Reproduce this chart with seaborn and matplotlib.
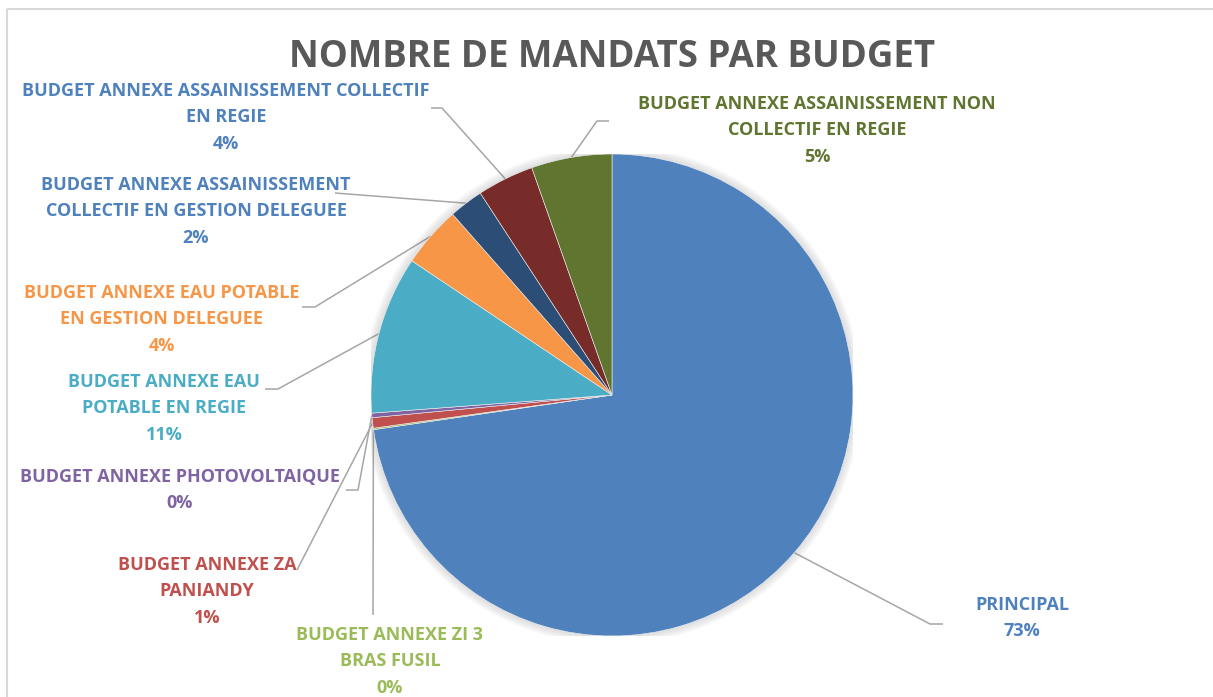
import math
import matplotlib
matplotlib.use("Agg")
import matplotlib.pyplot as plt
import seaborn as sns
from matplotlib.patches import Circle, Rectangle

# Budgets (clockwise from 12 o'clock) and their share of the mandates, in %
budgets = [
    "PRINCIPAL",
    "BUDGET ANNEXE ZI 3\nBRAS FUSIL",
    "BUDGET ANNEXE ZA\nPANIANDY",
    "BUDGET ANNEXE PHOTOVOLTAIQUE",
    "BUDGET ANNEXE EAU\nPOTABLE EN REGIE",
    "BUDGET ANNEXE EAU POTABLE\nEN GESTION DELEGUEE",
    "BUDGET ANNEXE ASSAINISSEMENT\nCOLLECTIF EN GESTION DELEGUEE",
    "BUDGET ANNEXE ASSAINISSEMENT COLLECTIF\nEN REGIE",
    "BUDGET ANNEXE ASSAINISSEMENT NON\nCOLLECTIF EN REGIE",
]
mandats = [72.7, 0.1, 0.7, 0.3, 10.6, 4.1, 2.3, 3.8, 5.4]

slice_colors = ["#4F81BD", "#9BBB59", "#C0504D", "#8064A2", "#4BACC6",
                "#F79646", "#2C4D75", "#772C2A", "#5F7530"]
label_colors = ["#4F81BD", "#9BBB59", "#C0504D", "#8064A2", "#4BACC6",
                "#F79646", "#4F81BD", "#4F81BD", "#5F7530"]

title = "NOMBRE DE MANDATS PAR BUDGET"

# Label placement (pixels): centre x / first line y, and leader line start points
label_pos = [(1022, 605), (390, 635), (207, 565), (180, 477), (164, 382),
             (162, 293), (196, 185), (226, 91), (817, 104)]
leader_start = [
    [(943, 624), (930, 624)],
    [(373, 615)],
    [(297, 570)],
    [(346, 490), (358, 490)],
    [(265, 389), (278, 389)],
    [(302, 307), (315, 307)],
    [(335, 193)],
    [(431, 108), (442, 108)],
    [(609, 121), (597, 121)],
]

sns.set_theme(style="white")
plt.rcParams["font.family"] = ["Open Sans", "DejaVu Sans"]

W, H = 1213, 697
CX, CY, R = 612, 395, 241
LINE = 26.3

fig = plt.figure(figsize=(W / 100, H / 100), dpi=100)
fig.patch.set_facecolor("white")

# overlay in pixel coordinates for labels and leader lines
ov = fig.add_axes([0, 0, 1, 1])
ov.set_xlim(0, W)
ov.set_ylim(H, 0)
ov.axis("off")
ov.set_zorder(0)

# chart frame (top/left edges visible)
ov.add_patch(Rectangle((7, 9), W + 20, H + 20, fill=False,
                       edgecolor="#D9D9D9", linewidth=1.5))

ax = fig.add_axes([(CX - R) / W, (H - CY - R) / H, 2 * R / W, 2 * R / H])
ax.set_zorder(1)
ax.patch.set_alpha(0)

# soft shadow around the pie
for k in range(1, 8):
    ax.add_patch(Circle((0, 0), 1 + 0.005 * k, color="#7f7f7f",
                        alpha=0.035, zorder=0, linewidth=0))

wedges, _ = ax.pie(mandats, colors=slice_colors, startangle=90,
                   counterclock=False, radius=1,
                   wedgeprops=dict(linewidth=0.4, edgecolor="#f0f0f0"))
ax.set_xlim(-1, 1)
ax.set_ylim(-1, 1)
ax.set_aspect("equal")
ax.axis("off")

total = sum(mandats)
for w, name, val, col, (lx, ly), start in zip(
        wedges, budgets, mandats, label_colors, label_pos, leader_start):
    t = math.radians((w.theta1 + w.theta2) / 2)
    end = (CX + R * math.cos(t), CY - R * math.sin(t))
    pts = start + [end]
    ov.plot([p[0] for p in pts], [p[1] for p in pts], color="#A6A6A6",
            linewidth=1.1, solid_capstyle="butt")
    lines = name.split("\n") + [f"{round(val / total * 100):.0f}%"]
    for i, txt in enumerate(lines):
        ov.text(lx, ly + i * LINE, txt, ha="center", va="center",
                color=col, fontsize=13.0, fontweight="bold")

ov.text(612, 57, title, ha="center", va="center", color="#595959",
        fontsize=26.4, fontweight="bold")

fig.savefig("out.png", dpi=100, facecolor="white")
